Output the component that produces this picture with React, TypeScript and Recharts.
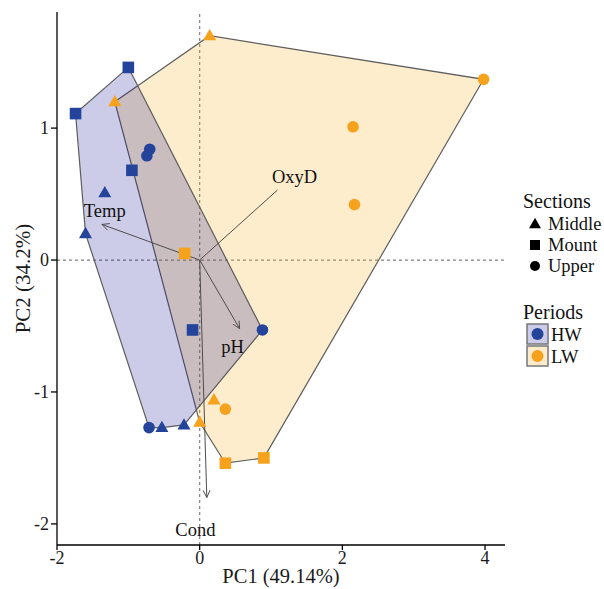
import React from "react";
import { ScatterChart, Scatter, XAxis, YAxis, ReferenceLine } from "recharts";

const FONT = '"Liberation Serif", "DejaVu Serif", "Times New Roman", serif';
const BLUE = "#24439a";
const ORANGE = "#f6a21c";

// PCA scores, by period and section
const hwMiddle = [
  { x: -1.33, y: 0.51 },
  { x: -1.6, y: 0.2 },
  { x: -0.53, y: -1.27 },
  { x: -0.22, y: -1.25 },
];
const hwMount = [
  { x: -1.74, y: 1.11 },
  { x: -1.0, y: 1.46 },
  { x: -0.95, y: 0.68 },
  { x: -0.1, y: -0.53 },
];
const hwUpper = [
  { x: -0.7, y: 0.84 },
  { x: -0.74, y: 0.79 },
  { x: 0.88, y: -0.53 },
  { x: -0.71, y: -1.27 },
];
const lwMiddle = [
  { x: 0.14, y: 1.7 },
  { x: -1.19, y: 1.2 },
  { x: 0.2, y: -1.06 },
  { x: 0.0, y: -1.23 },
];
const lwMount = [
  { x: -0.21, y: 0.05 },
  { x: 0.36, y: -1.54 },
  { x: 0.9, y: -1.5 },
];
const lwUpper = [
  { x: 3.98, y: 1.37 },
  { x: 2.15, y: 1.01 },
  { x: 2.17, y: 0.42 },
  { x: 0.36, y: -1.13 },
];

// loadings (arrow tips) and where their labels sit
const loadingNames = ["Temp", "OxyD", "pH", "Cond"];
const loadingX = [-1.37, 1.09, 0.56, 0.1];
const loadingY = [0.27, 0.53, -0.52, -1.8];
const labelX = [-1.33, 1.33, 0.46, -0.06];
const labelY = [0.37, 0.63, -0.66, -2.05];
const withHead = [true, false, true, true];

const xTicks = [-2, 0, 2, 4];
const yTicks = [-2, -1, 0, 1];

type P = { x: number; y: number };

// monotone chain convex hull
function hull(pts: P[]): P[] {
  const s = [...pts].sort((a, b) => a.x - b.x || a.y - b.y);
  const cross = (o: P, a: P, b: P) => (a.x - o.x) * (b.y - o.y) - (a.y - o.y) * (b.x - o.x);
  const lower: P[] = [];
  for (const p of s) {
    while (lower.length >= 2 && cross(lower[lower.length - 2], lower[lower.length - 1], p) <= 0) lower.pop();
    lower.push(p);
  }
  const upper: P[] = [];
  for (let i = s.length - 1; i >= 0; i--) {
    const p = s[i];
    while (upper.length >= 2 && cross(upper[upper.length - 2], upper[upper.length - 1], p) <= 0) upper.pop();
    upper.push(p);
  }
  upper.pop();
  lower.pop();
  return lower.concat(upper);
}

const hwHull = hull([...hwMiddle, ...hwMount, ...hwUpper]);
const lwHull = hull([...lwMiddle, ...lwMount, ...lwUpper]);

const hullLine = (fill: string, opacity: number) => (props: any) => {
  const pts = (props.points || []) as P[];
  if (!pts.length) return <g />;
  const d = pts.map((p, i) => `${i ? "L" : "M"}${p.x},${p.y}`).join(" ") + " Z";
  return <path d={d} fill={fill} fillOpacity={opacity} stroke="#5e5e5e" strokeWidth={1.2} />;
};

const arrowLine = (head: boolean) => (props: any) => {
  const pts = (props.points || []) as P[];
  if (pts.length < 2) return <g />;
  const [a, b] = pts;
  const t = Math.atan2(b.y - a.y, b.x - a.x);
  const L = 8;
  const f = 0.45;
  const h1 = { x: b.x - L * Math.cos(t - f), y: b.y - L * Math.sin(t - f) };
  const h2 = { x: b.x - L * Math.cos(t + f), y: b.y - L * Math.sin(t + f) };
  return (
    <g stroke="#4d4d4d" strokeWidth={1} fill="none">
      <path d={`M${a.x},${a.y} L${b.x},${b.y}`} />
      {head && <path d={`M${h1.x},${h1.y} L${b.x},${b.y} L${h2.x},${h2.y}`} />}
    </g>
  );
};

function Marker({ kind, cx, cy, color, r = 5.8 }: { kind: string; cx: number; cy: number; color: string; r?: number }) {
  if (kind === "triangle") {
    const h = r * 1.95;
    const w = r * 2.25;
    return (
      <path
        d={`M${cx},${cy - h * 0.6} L${cx + w / 2},${cy + h * 0.4} L${cx - w / 2},${cy + h * 0.4} Z`}
        fill={color}
      />
    );
  }
  if (kind === "square") {
    return <rect x={cx - r} y={cy - r} width={r * 2} height={r * 2} fill={color} />;
  }
  return <circle cx={cx} cy={cy} r={r} fill={color} />;
}

const markerShape = (kind: string, color: string) => (p: any) => {
  if (p.cx == null || p.cy == null) return <g />;
  return <Marker kind={kind} cx={p.cx} cy={p.cy} color={color} />;
};

const empty = () => <g />;

const loadingLabels = loadingNames.map((name, i) => ({ x: labelX[i], y: labelY[i], name }));

function Legend() {
  const t: React.CSSProperties = { fontFamily: FONT, fontSize: 18.5, fill: "#111" };
  const h: React.CSSProperties = { ...t, fontSize: 20 };
  return (
    <svg width={90} height={200} style={{ position: "absolute", left: 514, top: 186 }}>
      <text x={9} y={22} style={h}>Sections</text>
      <Marker kind="triangle" cx={21} cy={38} color="#000" r={5.3} />
      <text x={34} y={43.5} style={t}>Middle</text>
      <Marker kind="square" cx={21} cy={59} color="#000" r={5} />
      <text x={34} y={64.5} style={t}>Mount</text>
      <Marker kind="circle" cx={21} cy={80} color="#000" r={5} />
      <text x={34} y={85.5} style={t}>Upper</text>
      <text x={9} y={133} style={h}>Periods</text>
      <rect x={13} y={138} width={21} height={20} fill="#cccbe8" stroke="#777" strokeWidth={1.5} />
      <circle cx={23.5} cy={148} r={6} fill={BLUE} />
      <text x={37} y={154.5} style={t}>HW</text>
      <rect x={13} y={160} width={21} height={20} fill="#fdebcb" stroke="#777" strokeWidth={1.5} />
      <circle cx={23.5} cy={170} r={6} fill={ORANGE} />
      <text x={37} y={176.5} style={t}>LW</text>
    </svg>
  );
}

export default function App() {
  return (
    <div style={{ position: "absolute", left: 0, top: 0, width: 604, height: 589, background: "#fff" }}>
      <ScatterChart
        width={604}
        height={589}
        margin={{ top: 12, right: 99, bottom: 0, left: 0 }}
        style={{ fontFamily: FONT }}
      >
        <XAxis
          type="number"
          dataKey="x"
          domain={[-2.0, 4.28]}
          ticks={xTicks}
          allowDataOverflow
          height={44}
          tickSize={5}
          tickMargin={1}
          axisLine={{ stroke: "#000", strokeWidth: 1.3 }}
          tickLine={{ stroke: "#000", strokeWidth: 1.3 }}
          tick={{ fill: "#1a1a1a", fontSize: 18 }}
          label={{
            content: ({ viewBox }: any) => (
              <text
                x={viewBox.x + viewBox.width / 2}
                y={viewBox.y + 38}
                textAnchor="middle"
                style={{ fontFamily: FONT, fontSize: 20.5, fill: "#1a1a1a" }}
              >
                PC1 (49.14%)
              </text>
            ),
          }}
        />
        <YAxis
          type="number"
          dataKey="y"
          domain={[-2.16, 1.88]}
          ticks={yTicks}
          allowDataOverflow
          width={57}
          tickSize={6}
          tickMargin={2}
          axisLine={{ stroke: "#000", strokeWidth: 1.3 }}
          tickLine={{ stroke: "#000", strokeWidth: 1.3 }}
          tick={{ fill: "#1a1a1a", fontSize: 18 }}
          label={{
            content: ({ viewBox }: any) => {
              const cx = viewBox.x + 23;
              const cy = viewBox.y + viewBox.height / 2;
              return (
                <text
                  x={cx}
                  y={cy}
                  transform={`rotate(-90 ${cx} ${cy})`}
                  textAnchor="middle"
                  dominantBaseline="central"
                  style={{ fontFamily: FONT, fontSize: 21, fill: "#1a1a1a" }}
                >
                  PC2 (34.2%)
                </text>
              );
            },
          }}
        />
        <Scatter data={lwHull} line={hullLine("#f7b32f", 0.24)} shape={empty} isAnimationActive={false} />
        <Scatter data={hwHull} line={hullLine("#00008c", 0.2)} shape={empty} isAnimationActive={false} />
        <ReferenceLine x={0} stroke="#808080" strokeDasharray="3 3" strokeWidth={1.2} />
        <ReferenceLine y={0} stroke="#808080" strokeDasharray="3 3" strokeWidth={1.2} />
        {loadingNames.map((name, i) => (
          <Scatter
            key={name}
            data={[
              { x: 0, y: 0 },
              { x: loadingX[i], y: loadingY[i] },
            ]}
            line={arrowLine(withHead[i])}
            shape={empty}
            isAnimationActive={false}
          />
        ))}
        <Scatter
          data={loadingLabels}
          isAnimationActive={false}
          shape={(p: any) => (
            <text
              x={p.cx}
              y={p.cy}
              textAnchor="middle"
              dominantBaseline="central"
              style={{ fontFamily: FONT, fontSize: 18.5, fill: "#111" }}
            >
              {p.payload?.name}
            </text>
          )}
        />
        <Scatter data={hwMiddle} shape={markerShape("triangle", BLUE)} isAnimationActive={false} />
        <Scatter data={hwMount} shape={markerShape("square", BLUE)} isAnimationActive={false} />
        <Scatter data={hwUpper} shape={markerShape("circle", BLUE)} isAnimationActive={false} />
        <Scatter data={lwMiddle} shape={markerShape("triangle", ORANGE)} isAnimationActive={false} />
        <Scatter data={lwMount} shape={markerShape("square", ORANGE)} isAnimationActive={false} />
        <Scatter data={lwUpper} shape={markerShape("circle", ORANGE)} isAnimationActive={false} />
      </ScatterChart>
      <Legend />
    </div>
  );
}
